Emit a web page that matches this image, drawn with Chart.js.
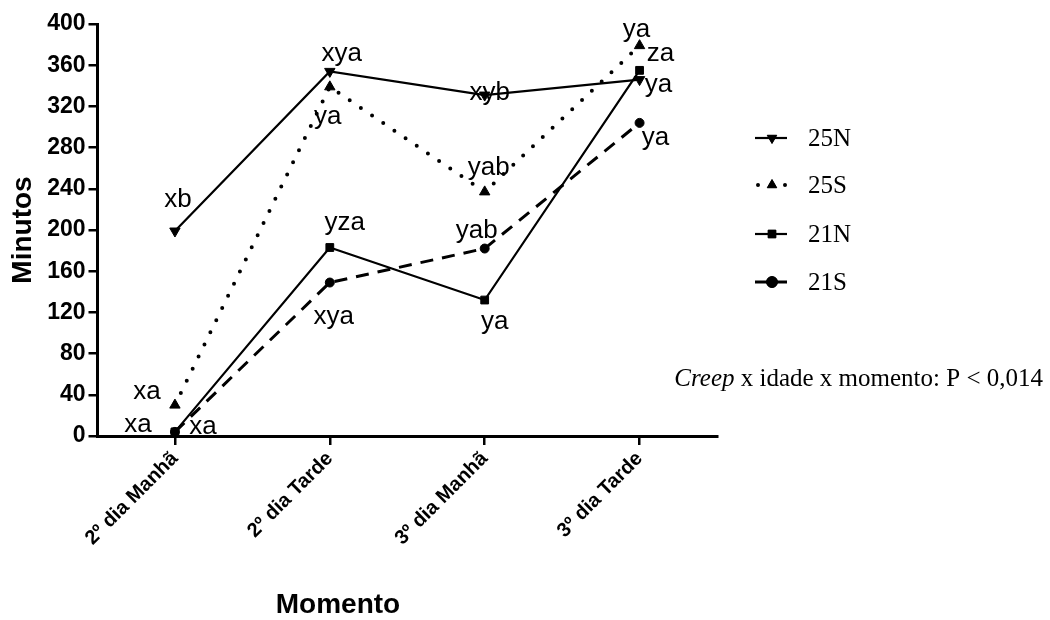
<!DOCTYPE html>
<html>
<head>
<meta charset="utf-8">
<script src="https://cdn.jsdelivr.net/npm/chart.js@4.4.1/dist/chart.umd.min.js"></script>
<style>
  html, body { margin: 0; padding: 0; background: #ffffff; }
  #wrap { position: relative; width: 1050px; height: 620px; }
</style>
</head>
<body>
<div id="wrap"><canvas id="c" width="1050" height="620"></canvas></div>
<script>
// ---- data ----
const categories = ["2º dia Manhã", "2º dia Tarde", "3º dia Manhã", "3º dia Tarde"];
const seriesNames = ["25N", "25S", "21N", "21S"];
const v25N = [199, 354, 331, 346];
const v25S = [30, 339, 237, 379];
const v21N = [4, 183, 132, 355];
const v21S = [4, 149, 182, 304];
const yTicks = [0, 40, 80, 120, 160, 200, 240, 280, 320, 360, 400];
// significance letters per series / point
const letters25N = ["xb", "xya", "xyb", "ya"];
const letters25S = ["xa", "ya", "yab", "ya"];
const letters21N = ["xa", "yza", "ya", "za"];
const letters21S = ["xa", "xya", "yab", "ya"];
const yTitle = "Minutos";
const xTitle = "Momento";

// ---- layout (label offsets in px relative to points) ----
const labelOffsets = [
  [[3, -31], [12, -18], [5, -2], [19, 5]],      // 25N
  [[-28, -13], [-2, 30], [4, -24], [-3, -16]],  // 25S
  [[-37, -7], [15, -25], [10, 22], [21, -17]],  // 21N
  [[28, -5], [4, 34], [-8, -18], [16, 15]]      // 21S
];
const allLetters = [letters25N, letters25S, letters21N, letters21S];

const styles = [
  { pointStyle: 'triangle', rotation: 180, dash: [], width: 2.2, cap: 'butt', radius: 6, order: 1 },
  { pointStyle: 'triangle', rotation: 0, dash: [0, 13.5], width: 4, cap: 'round', radius: 6, order: 2 },
  { pointStyle: 'rect', rotation: 0, dash: [], width: 2.2, cap: 'butt', radius: 5.5, order: 0 },
  { pointStyle: 'circle', rotation: 0, dash: [13, 9], width: 3, cap: 'butt', radius: 4.5, order: 3 }
];
const values = [v25N, v25S, v21N, v21S];

const datasets = seriesNames.map((name, i) => ({
  label: name,
  data: values[i],
  order: styles[i].order,
  borderColor: '#000',
  backgroundColor: '#000',
  borderWidth: styles[i].width,
  borderDash: styles[i].dash,
  borderCapStyle: styles[i].cap,
  pointStyle: styles[i].pointStyle,
  pointRotation: styles[i].rotation,
  pointRadius: styles[i].radius,
  pointBorderWidth: 1,
  pointBackgroundColor: '#000',
  pointBorderColor: '#000',
  tension: 0,
  fill: false
}));

const extras = {
  id: 'extras',
  afterDraw(chart) {
    const ctx = chart.ctx;
    const xs = chart.scales.x, ys = chart.scales.y;
    ctx.save();
    ctx.fillStyle = '#000';
    // letters
    ctx.font = '26px "Liberation Sans", Arial, sans-serif';
    ctx.textAlign = 'center';
    ctx.textBaseline = 'middle';
    allLetters.forEach((arr, si) => {
      arr.forEach((t, pi) => {
        const px = xs.getPixelForValue(pi);
        const py = ys.getPixelForValue(values[si][pi]);
        const o = labelOffsets[si][pi];
        ctx.fillText(t, px + o[0], py + o[1]);
      });
    });
    // axis titles
    ctx.font = 'bold 28px "Liberation Sans", Arial, sans-serif';
    ctx.fillText(xTitle, 338, 605);
    ctx.save();
    ctx.translate(23, 230);
    ctx.rotate(-Math.PI / 2);
    ctx.fillText(yTitle, 0, 0);
    ctx.restore();
    // legend
    const rows = [138, 185, 234, 282];
    ctx.font = '25px "Liberation Serif", "Times New Roman", serif';
    ctx.textAlign = 'left';
    rows.forEach((ry, i) => {
      const st = styles[i];
      ctx.save();
      ctx.strokeStyle = '#000';
      ctx.lineWidth = st.width;
      ctx.setLineDash(st.dash);
      ctx.lineCap = st.cap;
      ctx.beginPath();
      if (i === 1) { ctx.moveTo(758, ry); ctx.lineTo(787, ry); }
      else { ctx.moveTo(755, ry); ctx.lineTo(787, ry); }
      ctx.stroke();
      ctx.restore();
      Chart.helpers.drawPoint(ctx, {
        pointStyle: st.pointStyle, rotation: st.rotation, radius: 5.5, borderWidth: 1
      }, 772, ry);
      ctx.fill();
      ctx.fillText(seriesNames[i], 808, ry + 1);
    });
    // note
    ctx.textBaseline = 'middle';
    ctx.font = 'italic 25px "Liberation Serif", "Times New Roman", serif';
    const w1 = ctx.measureText('Creep').width;
    ctx.font = '25px "Liberation Serif", "Times New Roman", serif';
    const rest = ' x idade x momento: P < 0,014';
    const w2 = ctx.measureText(rest).width;
    const noteX = 1043 - w1 - w2;
    ctx.fillText(rest, noteX + w1, 379);
    ctx.font = 'italic 25px "Liberation Serif", "Times New Roman", serif';
    ctx.fillText('Creep', noteX, 379);
    ctx.restore();
  }
};

new Chart(document.getElementById('c'), {
  type: 'line',
  data: { labels: categories, datasets },
  options: {
    responsive: false,
    animation: false,
    layout: { padding: { top: 24, right: 333, left: 0, bottom: 0 } },
    plugins: { legend: { display: false }, tooltip: { enabled: false } },
    scales: {
      x: {
        type: 'category',
        offset: true,
        grid: { display: true, drawOnChartArea: false, drawTicks: true, tickLength: 9, color: '#000', lineWidth: 2.5 },
        border: { display: true, color: '#000', width: 3 },
        ticks: {
          color: '#000', minRotation: 45, maxRotation: 45, padding: 2,
          font: { family: '"Liberation Sans", Arial, sans-serif', size: 20, weight: 'bold' }
        },
        afterFit(s) { s.height = 184; }
      },
      y: {
        min: 0, max: 400,
        afterBuildTicks(s) { s.ticks = yTicks.map(v => ({ value: v })); },
        grid: { display: true, drawOnChartArea: false, drawTicks: true, tickLength: 9, color: '#000', lineWidth: 2.5 },
        border: { display: true, color: '#000', width: 3 },
        ticks: {
          color: '#000', padding: 3,
          font: { family: '"Liberation Sans", Arial, sans-serif', size: 23, weight: 'bold' }
        },
        afterFit(s) { s.width = 97.5; }
      }
    }
  },
  plugins: [extras]
});
</script>
</body>
</html>
